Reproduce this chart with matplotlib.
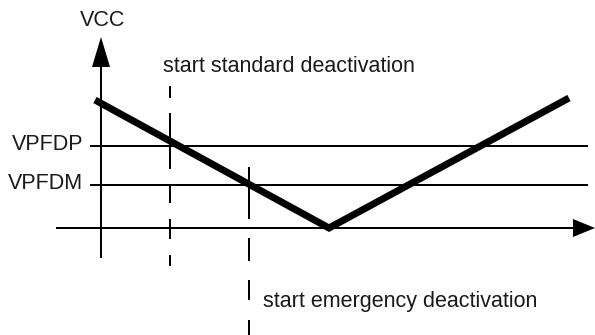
#!/usr/bin/env python3
"""
VCC power-fail deactivation diagram
Supply voltage drops through VPFDP / VPFDM thresholds and recovers
"""

import matplotlib
matplotlib.use("Agg")
import matplotlib.pyplot as plt

# Fonts / dash handling
plt.rcParams['font.family'] = ['Liberation Sans', 'DejaVu Sans']
plt.rcParams['lines.scale_dashes'] = False

# Data (time and voltage in arbitrary diagram units)
TIME = [-0.3, 11.4, 23.4]
VCC = [6.4, 0.0, 6.5]
THRESHOLD_NAMES = ['VPFDP', 'VPFDM']
THRESHOLD_LEVELS = [4.1, 2.15]
EVENT_LABELS = ['start standard deactivation', 'start emergency deactivation']
EVENT_TIMES = [3.45, 7.4]

# Configuration
PX = 0.72  # one pixel in points at 100 dpi
TEXT_COLOR = '#1a1a1a'
FONT_SIZE = 15.5


def draw_axes_arrows(ax):
    """Time and voltage axes with filled arrow heads"""
    ax.arrow(0, -1.5, 0, 11.05, width=0.1, head_width=0.9, head_length=1.5,
             length_includes_head=True, color='black', lw=0)
    ax.arrow(-2.25, 0, 26.95, 0, width=0.1, head_width=0.9, head_length=1.1,
             length_includes_head=True, color='black', lw=0)
    ax.text(0.1, 10.1, 'VCC', fontsize=FONT_SIZE, color=TEXT_COLOR,
            ha='center', va='baseline')


def draw_thresholds(ax):
    """Horizontal threshold levels with labels on the left"""
    for name, level in zip(THRESHOLD_NAMES, THRESHOLD_LEVELS):
        ax.plot([-0.5, 24.3], [level, level], color='black', lw=2 * PX)
        ax.text(-0.9, level - 0.18, name, fontsize=FONT_SIZE, color=TEXT_COLOR,
                ha='right', va='baseline')


def draw_events(ax):
    """Dashed markers for the deactivation start points"""
    # irregular dashes as in the original drawing (pixels)
    dash_px = [
        [12, 15, 56, 17, 17, 16, 20, 16, 11, 20],
        [52, 19, 23, 19, 20, 20, 15, 20],
    ]
    spans = [(7.1, -1.9), (3.05, -5.35)]
    text_pos = [(-0.35, 7.8), (0.7, -3.95)]

    for t, label, dashes, span, (dx, ty) in zip(EVENT_TIMES, EVENT_LABELS,
                                              dash_px, spans, text_pos):
        ax.plot([t, t], list(span), color='black', lw=2 * PX,
                linestyle=(0, [d * PX for d in dashes]))
        ax.text(t + dx, ty, label, fontsize=FONT_SIZE, color=TEXT_COLOR,
                ha='left', va='baseline')


def main():
    fig = plt.figure(figsize=(5.95, 3.35), dpi=100)
    ax = fig.add_axes([0, 0, 1, 1])
    ax.set_xlim(-5.05, 24.7)
    ax.set_ylim(-5.35, 11.4)
    ax.axis('off')

    draw_thresholds(ax)
    draw_events(ax)
    draw_axes_arrows(ax)

    # Supply voltage curve
    ax.plot(TIME, VCC, color='black', lw=7 * PX,
            solid_capstyle='butt', solid_joinstyle='miter', zorder=5)

    fig.savefig('out.png', dpi=100)


if __name__ == "__main__":
    main()
